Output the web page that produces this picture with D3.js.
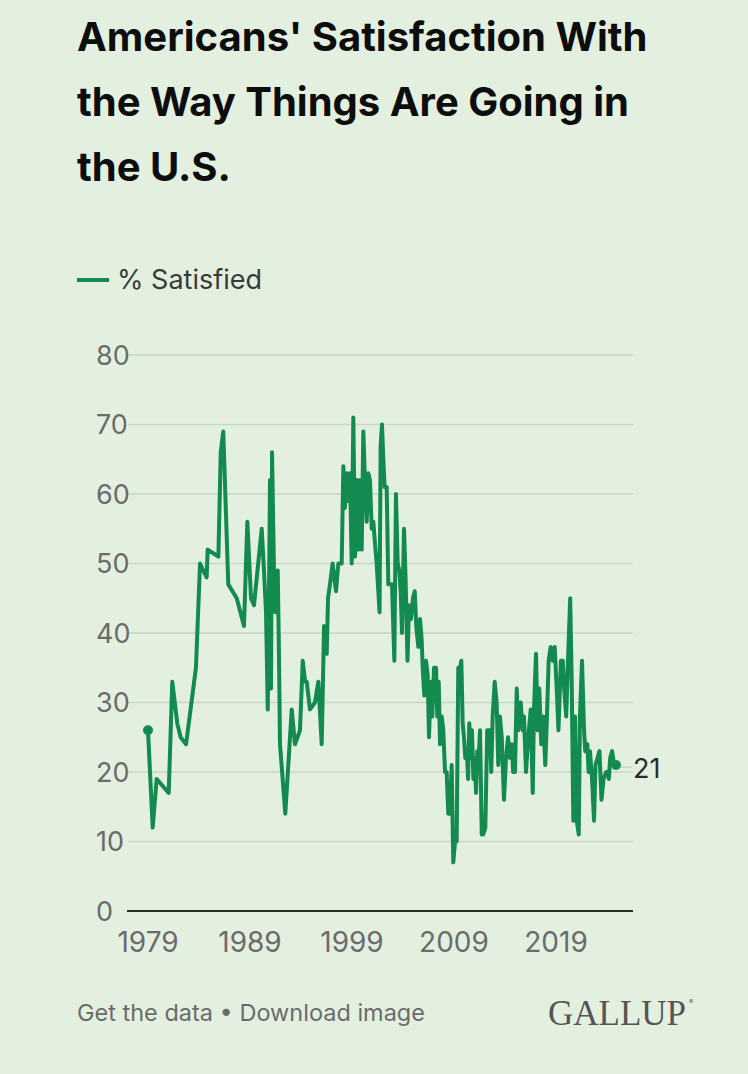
<!DOCTYPE html>
<html>
<head>
<meta charset="utf-8">
<script src="https://cdn.jsdelivr.net/npm/d3@7"></script>
<style>
  html, body { margin: 0; padding: 0; background: #e3f0e0; }
  svg { display: block; }
</style>
</head>
<body>
<svg id="chart" width="748" height="1074"></svg>
<script>
const titleLines = ["Americans' Satisfaction With", "the Way Things Are Going in", "the U.S."];
const seriesName = "% Satisfied";
const yTicks = [0, 10, 20, 30, 40, 50, 60, 70, 80];
const xTicks = [1979, 1989, 1999, 2009, 2019];
const footerText = "Get the data \u2022 Download image";
const brand = "GALLUP";

// decimal year of each poll
const years = [
  1979.0, 1979.46, 1979.85, 1981.03, 1981.38, 1981.87, 1982.2, 1982.73, 1983.7, 1984.1,
  1984.75, 1984.85, 1985.9, 1986.13, 1986.38, 1986.87, 1987.7, 1988.41, 1988.74, 1989.1,
  1989.39, 1990.15, 1990.37, 1990.57, 1990.74, 1990.89, 1990.96, 1991.06, 1991.16, 1991.35,
  1991.48, 1991.72, 1991.84, 1991.94, 1992.2, 1992.46, 1993.09, 1993.41, 1993.9, 1994.17,
  1994.4, 1994.56, 1994.88, 1995.37, 1995.7, 1996.03, 1996.26, 1996.52, 1996.65, 1996.84,
  1997.1, 1997.43, 1997.66, 1997.99, 1998.15, 1998.3, 1998.48, 1998.64, 1998.8, 1998.97,
  1999.13, 1999.3, 1999.46, 1999.62, 1999.78, 1999.95, 2000.11, 2000.27, 2000.44, 2000.6,
  2000.76, 2000.93, 2001.09, 2001.25, 2001.42, 2001.58, 2001.7, 2001.81, 2001.94, 2002.07,
  2002.2, 2002.4, 2002.56, 2002.77, 2002.92, 2003.15, 2003.31, 2003.48, 2003.64, 2003.77,
  2003.9, 2004.1, 2004.25, 2004.44, 2004.59, 2004.78, 2004.98, 2005.15, 2005.3, 2005.5,
  2005.67, 2005.83, 2005.93, 2006.09, 2006.25, 2006.42, 2006.55, 2006.72, 2006.87, 2007.04,
  2007.24, 2007.36, 2007.5, 2007.63, 2007.8, 2007.95, 2008.12, 2008.28, 2008.44, 2008.6,
  2008.77, 2008.93, 2009.1, 2009.26, 2009.42, 2009.59, 2009.72, 2009.85, 2009.98, 2010.11,
  2010.25, 2010.38, 2010.5, 2010.64, 2010.76, 2010.9, 2011.03, 2011.16, 2011.28, 2011.42,
  2011.55, 2011.72, 2011.87, 2012.07, 2012.26, 2012.53, 2012.65, 2012.79, 2012.99, 2013.18,
  2013.34, 2013.5, 2013.68, 2013.9, 2014.1, 2014.3, 2014.5, 2014.66, 2014.8, 2014.98,
  2015.15, 2015.3, 2015.54, 2015.73, 2015.86, 2016.06, 2016.28, 2016.52, 2016.72, 2016.84,
  2017.04, 2017.2, 2017.36, 2017.56, 2017.75, 2017.95, 2018.09, 2018.28, 2018.48, 2018.68,
  2018.87, 2019.07, 2019.24, 2019.48, 2019.67, 2019.8, 2020.0, 2020.2, 2020.39, 2020.54,
  2020.7, 2020.87, 2021.03, 2021.23, 2021.35, 2021.55, 2021.75, 2021.87, 2022.07, 2022.2,
  2022.33, 2022.53, 2022.73, 2022.87, 2023.07, 2023.26, 2023.46, 2023.66, 2023.92, 2024.05,
  2024.18, 2024.31, 2024.5, 2024.7, 2024.88
];
const satisfied = [
  26, 12, 19, 17, 33, 27, 25, 24, 35, 50,
  48, 52, 51, 66, 69, 47, 45, 41, 56, 45,
  44, 55, 49, 43, 29, 50, 62, 32, 66, 49,
  43, 49, 37, 24, 19, 14, 29, 24, 26, 36,
  33, 33, 29, 30, 33, 24, 41, 37, 45, 47,
  50, 46, 50, 50, 64, 58, 63, 59, 63, 50,
  71, 51, 62, 52, 62, 52, 69, 62, 56, 63,
  62, 55, 56, 53, 50, 46, 43, 67, 70, 65,
  61, 61, 47, 47, 47, 36, 60, 50, 49, 46,
  40, 55, 48, 36, 44, 42, 45, 46, 41, 38,
  42, 39, 35, 31, 36, 34, 25, 33, 28, 35,
  35, 28, 33, 24, 28, 26, 20, 20, 14, 14,
  21, 7, 10, 10, 35, 35, 36, 27, 25, 22,
  23, 19, 27, 22, 26, 19, 22, 17, 23, 22,
  26, 11, 11, 12, 26, 26, 20, 28, 33, 30,
  21, 28, 25, 16, 22, 25, 22, 24, 20, 20,
  32, 26, 30, 26, 28, 20, 25, 29, 17, 29,
  37, 26, 32, 24, 28, 21, 27, 36, 38, 36,
  38, 32, 26, 36, 36, 32, 28, 37, 45, 33,
  13, 28, 13, 11, 28, 36, 26, 23, 24, 20,
  23, 19, 13, 21, 22, 23, 16, 19, 20, 20,
  19, 22, 23, 21, 21
];

const data = years.map((d, i) => ({ year: d, value: satisfied[i] }));

const svg = d3.select("#chart");
const green = "#138a4f";
const sans = "Inter, 'Noto Sans', sans-serif";

// Title
const title = svg.append("text")
  .attr("font-family", sans)
  .attr("font-weight", 700)
  .attr("font-size", 40)
  .attr("fill", "#0d0d0d");
titleLines.forEach((t, i) => {
  title.append("tspan").attr("x", 77).attr("y", 51 + i * 65).text(t);
});

// Legend
svg.append("line")
  .attr("x1", 77).attr("x2", 109).attr("y1", 280).attr("y2", 280)
  .attr("stroke", green).attr("stroke-width", 4);
svg.append("text")
  .attr("x", 117).attr("y", 289)
  .attr("font-family", sans).attr("font-size", 27)
  .attr("fill", "#3a3a3a")
  .text(seriesName);

const x = d3.scaleLinear().domain([1979, 2019]).range([148, 556]);
const y = d3.scaleLinear().domain([0, 80]).range([911, 355]);

// gridlines
svg.append("g").selectAll("line")
  .data(yTicks.filter(d => d > 0))
  .join("line")
  .attr("x1", 128).attr("x2", 633)
  .attr("y1", d => y(d)).attr("y2", d => y(d))
  .attr("stroke", "#c9d6c5").attr("stroke-width", 1.5);

// y labels
svg.append("g").selectAll("text")
  .data(yTicks)
  .join("text")
  .attr("x", 96).attr("y", d => y(d))
  .attr("dy", "0.36em")
  .attr("font-family", sans).attr("font-size", 27)
  .attr("fill", "#6b6b6b")
  .text(d => d);

// baseline
svg.append("line")
  .attr("x1", 127).attr("x2", 633)
  .attr("y1", y(0)).attr("y2", y(0))
  .attr("stroke", "#2b2b2b").attr("stroke-width", 2);

// x labels
svg.append("g").selectAll("text")
  .data(xTicks)
  .join("text")
  .attr("x", d => x(d)).attr("y", 952)
  .attr("text-anchor", "middle")
  .attr("font-family", sans).attr("font-size", 28)
  .attr("fill", "#6b6b6b")
  .text(d => d);

// line
const line = d3.line().x(d => x(d.year)).y(d => y(d.value));
svg.append("path")
  .datum(data)
  .attr("d", line)
  .attr("fill", "none")
  .attr("stroke", green)
  .attr("stroke-width", 4)
  .attr("stroke-linejoin", "round")
  .attr("stroke-linecap", "round");

const first = data[0], last = data[data.length - 1];
svg.append("circle").attr("cx", x(first.year)).attr("cy", y(first.value)).attr("r", 5).attr("fill", green);
svg.append("circle").attr("cx", x(last.year)).attr("cy", y(last.value)).attr("r", 5).attr("fill", green);

// end label
svg.append("line")
  .attr("x1", x(last.year) + 4).attr("x2", x(last.year) + 16)
  .attr("y1", y(last.value) + 2).attr("y2", y(last.value) + 2)
  .attr("stroke", "#b8c4b4").attr("stroke-width", 1);
svg.append("text")
  .attr("x", x(last.year) + 17).attr("y", y(last.value) + 3)
  .attr("dy", "0.36em")
  .attr("font-family", sans).attr("font-size", 27)
  .attr("fill", "#2b2b2b")
  .text(last.value);

// footer
svg.append("text")
  .attr("x", 77).attr("y", 1021)
  .attr("font-family", sans).attr("font-size", 23.5)
  .attr("fill", "#6b6b6b")
  .text(footerText);
svg.append("text")
  .attr("x", 548).attr("y", 1025)
  .attr("font-family", "'Liberation Serif', 'DejaVu Serif', serif")
  .attr("font-size", 35)
  .attr("fill", "#555")
  .text(brand);
svg.append("text")
  .attr("x", 689).attr("y", 1004)
  .attr("font-family", sans).attr("font-size", 6)
  .attr("fill", "#555")
  .text("\u00AE");
</script>
</body>
</html>
